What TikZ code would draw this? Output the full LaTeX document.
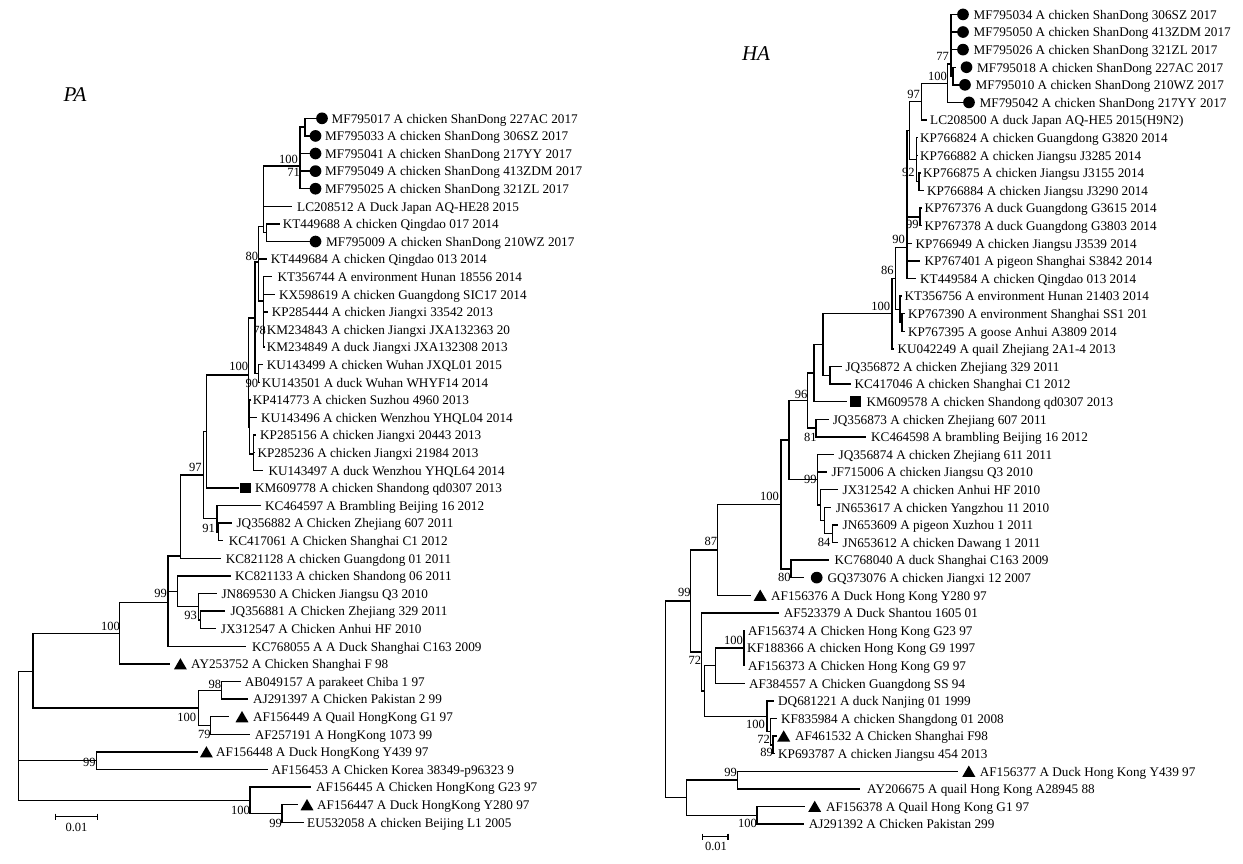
\documentclass[tikz,border=0pt]{standalone}
\usepackage{fontspec}
\setmainfont{Liberation Serif}
\usetikzlibrary{shapes.geometric}
\newcommand\leaffont{\fontsize{13.2}{15}\selectfont}
\newcommand\bsfont{\fontsize{12.5}{14}\selectfont}
\newcommand\kids[2]{\foreach \c in {#2} {\draw[br] (#1) |- (\c);}}
\begin{document}
\begin{tikzpicture}[x=1pt,y=-1pt,
  br/.style={line width=1.4pt, draw=black},
  lab/.style={anchor=base west, inner sep=0pt, font=\leaffont, yshift=-4.8pt},
  bs/.style={anchor=base east, inner sep=0pt, font=\bsfont, yshift=-4.4pt},
  dot/.style={circle, fill=black, inner sep=0pt, minimum size=11.7pt},
  tri/.style={regular polygon, regular polygon sides=3, fill=black, inner sep=0pt, minimum size=15pt, yshift=-1.8pt},
  sq/.style={rectangle, fill=black, inner sep=0pt, minimum width=11pt, minimum height=10.5pt},
  ttl/.style={font=\fontsize{21}{24}\selectfont\itshape, inner sep=0pt},
  sbar/.style={line width=1.4pt, draw=black}]
\path[use as bounding box, fill=white] (0,0) rectangle (1243,863);

% ================= LEFT TREE (PA) =================
\node[ttl] (tPA) at (75,95) {PA};
% leaves
\coordinate (a1) at (316,118.3);   \node[dot] (am1) at (322,118.3) {};   \node[lab] (at1) at (331.5,118.3) {MF795017 A chicken ShanDong 227AC 2017};
\coordinate (a2) at (309.5,135.9); \node[dot] (am2) at (315.5,135.9) {}; \node[lab] (at2) at (325,135.9) {MF795033 A chicken ShanDong 306SZ 2017};
\coordinate (a3) at (309.5,153.5); \node[dot] (am3) at (315.5,153.5) {}; \node[lab] (at3) at (325,153.5) {MF795041 A chicken ShanDong 217YY 2017};
\coordinate (a4) at (309.5,171.1); \node[dot] (am4) at (315.5,171.1) {}; \node[lab] (at4) at (325,171.1) {MF795049 A chicken ShanDong 413ZDM 2017};
\coordinate (a5) at (309.5,188.7); \node[dot] (am5) at (315.5,188.7) {}; \node[lab] (at5) at (325,188.7) {MF795025 A chicken ShanDong 321ZL 2017};
\coordinate (a6) at (291.7,206.3); \node[lab] (at6) at (297,206.3) {LC208512 A Duck Japan AQ-HE28 2015};
\coordinate (a7) at (280,223.9);   \node[lab] (at7) at (282.7,223.9) {KT449688 A chicken Qingdao 017 2014};
\coordinate (a8) at (309.5,241.5); \node[dot] (am8) at (315.5,241.5) {}; \node[lab] (at8) at (326,241.5) {MF795009 A chicken ShanDong 210WZ 2017};
\coordinate (a9) at (267,259.1);   \node[lab] (at9) at (270.7,259.1) {KT449684 A chicken Qingdao 013 2014};
\coordinate (a10) at (271.7,276.7); \node[lab] (at10) at (277.3,276.7) {KT356744 A environment Hunan 18556 2014};
\coordinate (a11) at (275,294.3);   \node[lab] (at11) at (279,294.3) {KX598619 A chicken Guangdong SIC17 2014};
\coordinate (a12) at (268.3,311.9); \node[lab] (at12) at (271.7,311.9) {KP285444 A chicken Jiangxi 33542 2013};
\coordinate (a13) at (264.5,329.5); \node[lab] (at13) at (266.7,329.5) {KM234843 A chicken Jiangxi JXA132363 20};
\coordinate (a14) at (264.5,347.1); \node[lab] (at14) at (266.7,347.1) {KM234849 A duck Jiangxi JXA132308 2013};
\coordinate (a15) at (262.7,364.7); \node[lab] (at15) at (266.7,364.7) {KU143499 A chicken Wuhan JXQL01 2015};
\coordinate (a16) at (259.5,382.3); \node[lab] (at16) at (261.7,382.3) {KU143501 A duck Wuhan WHYF14 2014};
\coordinate (a17) at (250.5,399.9); \node[lab] (at17) at (252.7,399.9) {KP414773 A chicken Suzhou 4960 2013};
\coordinate (a18) at (256.7,417.5); \node[lab] (at18) at (261,417.5) {KU143496 A chicken Wenzhou YHQL04 2014};
\coordinate (a19) at (255.7,435.1); \node[lab] (at19) at (260,435.1) {KP285156 A chicken Jiangxi 20443 2013};
\coordinate (a20) at (254.5,452.7); \node[lab] (at20) at (257.3,452.7) {KP285236 A chicken Jiangxi 21984 2013};
\coordinate (a21) at (263.3,470.3); \node[lab] (at21) at (268.3,470.3) {KU143497 A duck Wenzhou YHQL64 2014};
\coordinate (a22) at (239,487.9);   \node[sq] (am22) at (245,487.9) {}; \node[lab] (at22) at (255,487.9) {KM609778 A chicken Shandong qd0307 2013};
\coordinate (a23) at (261,505.5);   \node[lab] (at23) at (265,505.5) {KC464597 A Brambling Beijing 16 2012};
\coordinate (a24) at (232,523.1);   \node[lab] (at24) at (236.4,523.1) {JQ356882 A Chicken Zhejiang 607 2011};
\coordinate (a25) at (223.2,540.7); \node[lab] (at25) at (228.6,540.7) {KC417061 A Chicken Shanghai C1 2012};
\coordinate (a26) at (221.4,558.3); \node[lab] (at26) at (225.7,558.3) {KC821128 A chicken Guangdong 01 2011};
\coordinate (a27) at (231.4,575.9); \node[lab] (at27) at (235,575.9) {KC821133 A chicken Shandong 06 2011};
\coordinate (a28) at (217,593.5);   \node[lab] (at28) at (221.4,593.5) {JN869530 A Chicken Jiangsu Q3 2010};
\coordinate (a29) at (225,611.1);   \node[lab] (at29) at (230.4,611.1) {JQ356881 A Chicken Zhejiang 329 2011};
\coordinate (a30) at (216,628.7);   \node[lab] (at30) at (220.7,628.7) {JX312547 A Chicken Anhui HF 2010};
\coordinate (a31) at (246.4,646.3); \node[lab] (at31) at (251.8,646.3) {KC768055 A A Duck Shanghai C163 2009};
\coordinate (a32) at (169.6,663.9); \node[tri] (am32) at (180.4,663.9) {}; \node[lab] (at32) at (191,663.9) {AY253752 A Chicken Shanghai F 98};
\coordinate (a33) at (241,681.5);   \node[lab] (at33) at (244.6,681.5) {AB049157 A parakeet Chiba 1 97};
\coordinate (a34) at (248.2,699.1); \node[lab] (at34) at (252.9,699.1) {AJ291397 A Chicken Pakistan 2 99};
\coordinate (a35) at (228.6,716.7); \node[tri] (am35) at (242,716.7) {}; \node[lab] (at35) at (252.9,716.7) {AF156449 A Quail HongKong G1 97};
\coordinate (a36) at (250,734.3);   \node[lab] (at36) at (254.6,734.3) {AF257191 A HongKong 1073 99};
\coordinate (a37) at (198.2,751.9); \node[tri] (am37) at (206.4,751.9) {}; \node[lab] (at37) at (216,751.9) {AF156448 A Duck HongKong Y439 97};
\coordinate (a38) at (267.9,769.5); \node[lab] (at38) at (271.4,769.5) {AF156453 A Chicken Korea 38349-p96323 9};
\coordinate (a39) at (311,787.1);   \node[lab] (at39) at (316,787.1) {AF156445 A Chicken HongKong G23 97};
\coordinate (a40) at (298,804.7);   \node[tri] (am40) at (307,804.7) {}; \node[lab] (at40) at (317,804.7) {AF156447 A Duck HongKong Y280 97};
\coordinate (a41) at (303.6,822.3); \node[lab] (at41) at (307,822.3) {EU532058 A chicken Beijing L1 2005};
% internal nodes
\coordinate (aA) at (305,127.1);
\coordinate (aB) at (300,166);
\coordinate (aC) at (263.3,226.7);
\coordinate (aK) at (266.7,232.7);
\coordinate (a80) at (258.3,262);
\coordinate (aR) at (263.3,300.9);
\coordinate (a78) at (263.3,325.1);
\coordinate (aP) at (255,317.8);
\coordinate (a90) at (258.3,373.5);
\coordinate (aS) at (249.3,426.9);
\coordinate (aT) at (253.3,453.9);
\coordinate (a100b) at (248.3,375);
\coordinate (a207) at (206.7,431.5);
\coordinate (a97) at (203.6,475.1);
\coordinate (aD) at (216.8,518.7);
\coordinate (a91) at (218.6,531.9);
\coordinate (aE) at (180.4,556);
\coordinate (aG) at (177.5,591.3);
\coordinate (a93) at (198.2,606.7);
\coordinate (a93b) at (200.7,619.9);
\coordinate (a99) at (167.9,602.7);
\coordinate (a100) at (119.6,633.3);
\coordinate (aN) at (32.9,671.3);
\coordinate (a100c) at (198.2,707.9);
\coordinate (a98) at (221.4,690.3);
\coordinate (a79) at (210.7,725.5);
\coordinate (a99b) at (96.4,760.7);
\coordinate (a100d) at (250,800.3);
\coordinate (a99c) at (282,813.5);
\coordinate (aroot) at (18.6,735.8);
% branches
\kids{aA}{a1,a2}
\kids{aB}{aA,a3,a4,a5}
\kids{aC}{aB,a6,aK}
\kids{aK}{a7,a8}
\kids{a80}{aC,a9,aR}
\kids{aR}{a10,a11,a78}
\kids{a78}{a12,a13,a14}
\kids{aP}{a80,a90}
\kids{a90}{a15,a16}
\kids{aS}{a17,a18,aT}
\kids{aT}{a19,a20,a21}
\kids{a100b}{aP,aS}
\kids{a207}{a100b,a22}
\kids{a97}{a207,aD}
\kids{aD}{a23,a91}
\kids{a91}{a24,a25}
\kids{aE}{a97,a26}
\kids{aG}{a27,a93}
\kids{a93}{a28,a93b}
\kids{a93b}{a29,a30}
\kids{a99}{aE,aG,a31}
\kids{a100}{a99,a32}
\kids{aN}{a100,a100c}
\kids{a100c}{a98,a79}
\kids{a98}{a33,a34}
\kids{a79}{a35,a36}
\kids{a99b}{a37,a38}
\kids{a100d}{a39,a99c}
\kids{a99c}{a40,a41}
\kids{aroot}{aN,a99b,a100d}
% bootstrap values
\node[bs] (ab1) at (298,159) {100};
\node[bs] (ab2) at (300,172.5) {71};
\node[bs] (ab3) at (258.3,256) {80};
\node[bs] (ab4) at (266,330) {78};
\node[bs] (ab5) at (248.3,366.5) {100};
\node[bs] (ab6) at (258.3,383) {90};
\node[bs] (ab7) at (201.7,467) {97};
\node[bs] (ab8) at (215,528) {91};
\node[bs] (ab9) at (167,593.5) {99};
\node[bs] (ab10) at (197,615) {93};
\node[bs] (ab11) at (120,626.5) {100};
\node[bs] (ab12) at (221.4,684) {98};
\node[bs] (ab13) at (196.4,717.5) {100};
\node[bs] (ab14) at (210.7,734.5) {79};
\node[bs] (ab15) at (95.7,762.5) {99};
\node[bs] (ab16) at (250,810) {100};
\node[bs] (ab17) at (282,823) {99};
% scale bar
\draw[sbar] (55.4,816.7) -- (97.5,816.7);
\draw[sbar] (55.4,813.7) -- (55.4,820.2);
\draw[sbar] (97.5,813.7) -- (97.5,820.2);
\node[font=\bsfont, inner sep=0pt] (asc) at (76.5,827.5) {0.01};

% ================= RIGHT TREE (HA) =================
\node[ttl] (tHA) at (756,53.5) {HA};
\coordinate (b1) at (957.5,14.4);  \node[dot] (bm1) at (963,14.4) {};  \node[lab] (bt1) at (973.5,14.4) {MF795034 A chicken ShanDong 306SZ 2017};
\coordinate (b2) at (957.5,32.0);  \node[dot] (bm2) at (963,32.0) {};  \node[lab] (bt2) at (973.5,32.0) {MF795050 A chicken ShanDong 413ZDM 2017};
\coordinate (b3) at (957.5,49.6);  \node[dot] (bm3) at (963,49.6) {};  \node[lab] (bt3) at (973.5,49.6) {MF795026 A chicken ShanDong 321ZL 2017};
\coordinate (b4) at (956,67.2);    \node[dot] (bm4) at (966.5,67.2) {}; \node[lab] (bt4) at (977,67.2) {MF795018 A chicken ShanDong 227AC 2017};
\coordinate (b5) at (959.5,84.8);  \node[dot] (bm5) at (965,84.8) {};  \node[lab] (bt5) at (975.5,84.8) {MF795010 A chicken ShanDong 210WZ 2017};
\coordinate (b6) at (963,102.4);   \node[dot] (bm6) at (969,102.4) {};  \node[lab] (bt6) at (979.5,102.4) {MF795042 A chicken ShanDong 217YY 2017};
\coordinate (b7) at (926.8,120.0); \node[lab] (bt7) at (930,120.0) {LC208500 A duck Japan AQ-HE5 2015(H9N2)};
\coordinate (b8) at (917.5,137.6); \node[lab] (bt8) at (920,137.6) {KP766824 A chicken Guangdong G3820 2014};
\coordinate (b9) at (917.5,155.2); \node[lab] (bt9) at (920,155.2) {KP766882 A chicken Jiangsu J3285 2014};
\coordinate (b10) at (920.5,172.8); \node[lab] (bt10) at (923,172.8) {KP766875 A chicken Jiangsu J3155 2014};
\coordinate (b11) at (923.5,190.4); \node[lab] (bt11) at (926.8,190.4) {KP766884 A chicken Jiangsu J3290 2014};
\coordinate (b12) at (921.5,208.0); \node[lab] (bt12) at (924.4,208.0) {KP767376 A duck Guangdong G3615 2014};
\coordinate (b13) at (921.5,225.6); \node[lab] (bt13) at (924.4,225.6) {KP767378 A duck Guangdong G3803 2014};
\coordinate (b14) at (911.5,243.2); \node[lab] (bt14) at (915.4,243.2) {KP766949 A chicken Jiangsu J3539 2014};
\coordinate (b15) at (920,260.8);   \node[lab] (bt15) at (924.4,260.8) {KP767401 A pigeon Shanghai S3842 2014};
\coordinate (b16) at (916.4,278.4); \node[lab] (bt16) at (920,278.4) {KT449584 A chicken Qingdao 013 2014};
\coordinate (b17) at (901.5,296.0); \node[lab] (bt17) at (904.3,296.0) {KT356756 A environment Hunan 21403 2014};
\coordinate (b18) at (904.5,313.6); \node[lab] (bt18) at (907.8,313.6) {KP767390 A environment Shanghai SS1 201};
\coordinate (b19) at (904.5,331.2); \node[lab] (bt19) at (907.8,331.2) {KP767395 A goose Anhui A3809 2014};
\coordinate (b20) at (894,348.8);   \node[lab] (bt20) at (897.4,348.8) {KU042249 A quail Zhejiang 2A1-4 2013};
\coordinate (b21) at (842,366.4);   \node[lab] (bt21) at (845.4,366.4) {JQ356872 A chicken Zhejiang 329 2011};
\coordinate (b22) at (850.6,384.0); \node[lab] (bt22) at (854.4,384.0) {KC417046 A chicken Shanghai C1 2012};
\coordinate (b23) at (846.5,401.6); \node[sq] (bm23) at (855.6,401.6) {}; \node[lab] (bt23) at (866.3,401.6) {KM609578 A chicken Shandong qd0307 2013};
\coordinate (b24) at (828.6,419.2); \node[lab] (bt24) at (832.6,419.2) {JQ356873 A chicken Zhejiang 607 2011};
\coordinate (b25) at (866.3,436.8); \node[lab] (bt25) at (871,436.8) {KC464598 A brambling Beijing 16 2012};
\coordinate (b26) at (833.7,454.4); \node[lab] (bt26) at (838.5,454.4) {JQ356874 A chicken Zhejiang 611 2011};
\coordinate (b27) at (827,472.0);   \node[lab] (bt27) at (831.4,472.0) {JF715006 A chicken Jiangsu Q3 2010};
\coordinate (b28) at (837.7,489.6); \node[lab] (bt28) at (842.5,489.6) {JX312542 A chicken Anhui HF 2010};
\coordinate (b29) at (830.5,507.2); \node[lab] (bt29) at (835.7,507.2) {JN653617 A chicken Yangzhou 11 2010};
\coordinate (b30) at (837.7,524.8); \node[lab] (bt30) at (842.5,524.8) {JN653609 A pigeon Xuzhou 1 2011};
\coordinate (b31) at (837.7,542.4); \node[lab] (bt31) at (842.5,542.4) {JN653612 A chicken Dawang 1 2011};
\coordinate (b32) at (828.6,560.0); \node[lab] (bt32) at (834.5,560.0) {KC768040 A duck Shanghai C163 2009};
\coordinate (b33) at (803.5,577.6); \node[dot] (bm33) at (816.7,577.6) {}; \node[lab] (bt33) at (827.4,577.6) {GQ373076 A chicken Jiangxi 12 2007};
\coordinate (b34) at (751.1,595.2); \node[tri] (bm34) at (760.2,595.2) {}; \node[lab] (bt34) at (771,595.2) {AF156376 A Duck Hong Kong Y280 97};
\coordinate (b35) at (779,612.8);   \node[lab] (bt35) at (783.7,612.8) {AF523379 A Duck Shantou 1605 01};
\coordinate (b36) at (745,630.4);   \node[lab] (bt36) at (748,630.4) {AF156374 A Chicken Hong Kong G23 97};
\coordinate (b37) at (745,648.0);   \node[lab] (bt37) at (747,648.0) {KF188366 A chicken Hong Kong G9 1997};
\coordinate (b38) at (745,665.6);   \node[lab] (bt38) at (748,665.6) {AF156373 A Chicken Hong Kong G9 97};
\coordinate (b39) at (744.5,683.2); \node[lab] (bt39) at (749,683.2) {AF384557 A Chicken Guangdong SS 94};
\coordinate (b40) at (774,700.8);   \node[lab] (bt40) at (778,700.8) {DQ681221 A duck Nanjing 01 1999};
\coordinate (b41) at (777,718.4);   \node[lab] (bt41) at (781,718.4) {KF835984 A chicken Shangdong 01 2008};
\coordinate (b42) at (777,736.0);   \node[tri] (bm42) at (783.7,736.0) {}; \node[lab] (bt42) at (794.8,736.0) {AF461532 A Chicken Shanghai F98};
\coordinate (b43) at (775,753.6);   \node[lab] (bt43) at (778,753.6) {KP693787 A chicken Jiangsu 454 2013};
\coordinate (b44) at (957.7,771.2); \node[tri] (bm44) at (968.8,771.2) {}; \node[lab] (bt44) at (979.6,771.2) {AF156377 A Duck Hong Kong Y439 97};
\coordinate (b45) at (860.4,788.8); \node[lab] (bt45) at (867,788.8) {AY206675 A quail Hong Kong A28945 88};
\coordinate (b46) at (804.7,806.4); \node[tri] (bm46) at (814.7,806.4) {}; \node[lab] (bt46) at (825.8,806.4) {AF156378 A Quail Hong Kong G1 97};
\coordinate (b47) at (803.5,824.0); \node[lab] (bt47) at (808.7,824.0) {AJ291392 A Chicken Pakistan 299};
% internal nodes
\coordinate (bX) at (953,76);
\coordinate (b77) at (951,64);
\coordinate (b100) at (947.6,83.3);
\coordinate (b97) at (921.6,101.7);
\coordinate (bZ) at (909.5,130.6);
\coordinate (b92) at (916.4,159.6);
\coordinate (bX2) at (919,181.6);
\coordinate (b99a) at (920,216.8);
\coordinate (b90) at (907,247.6);
\coordinate (bHS) at (900,309.2);
\coordinate (bHS2) at (902,322.4);
\coordinate (b86) at (895.6,278.4);
\coordinate (b100b) at (892,313.6);
\coordinate (bJQ) at (829.8,375.2);
\coordinate (b823) at (823,344.4);
\coordinate (b814) at (814,373);
\coordinate (b81) at (816,428);
\coordinate (b96) at (807.5,400.5);
\coordinate (bN84) at (832.6,533.6);
\coordinate (bN2) at (824.6,520.4);
\coordinate (bN3) at (820.6,505);
\coordinate (b99c) at (817.5,479.7);
\coordinate (b788) at (788.8,440.1);
\coordinate (bKC) at (790.8,568.8);
\coordinate (b100c) at (781,504.5);
\coordinate (b87) at (717.3,549.8);
\coordinate (b100h) at (744,648);
\coordinate (b715) at (715.3,665.6);
\coordinate (b773) at (773,744.8);
\coordinate (b770) at (770.2,731.6);
\coordinate (b767) at (767,716.2);
\coordinate (bS) at (704.6,690.9);
\coordinate (b72) at (701.4,651.9);
\coordinate (b99r) at (690.7,600.8);
\coordinate (b99y) at (737.2,780);
\coordinate (b100q) at (757,815.2);
\coordinate (bB2) at (686.7,797.6);
\coordinate (broot) at (665.7,699.2);
% branches
\kids{bX}{b4,b5}
\kids{b77}{b1,b2,b3,bX}
\kids{b100}{b77,b6}
\kids{b97}{b100,b7}
\kids{bZ}{b97,b92}
\kids{b92}{b8,b9,bX2}
\kids{bX2}{b10,b11}
\kids{b99a}{b12,b13}
\kids{b90}{bZ,b99a,b14,b15,b16}
\kids{bHS}{b17,bHS2}
\kids{bHS2}{b18,b19}
\kids{b86}{b90,bHS}
\kids{b100b}{b86,b20}
\kids{bJQ}{b21,b22}
\kids{b823}{b100b,bJQ}
\kids{b814}{b823,b23}
\kids{b81}{b24,b25}
\kids{b96}{b814,b81}
\kids{bN84}{b30,b31}
\kids{bN2}{b29,bN84}
\kids{bN3}{b28,bN2}
\kids{b99c}{b26,b27,bN3}
\kids{b788}{b96,b99c}
\kids{bKC}{b32,b33}
\kids{b100c}{b788,bKC}
\kids{b87}{b100c,b34}
\kids{b100h}{b36,b37,b38}
\kids{b715}{b100h,b39}
\kids{b773}{b42,b43}
\kids{b770}{b41,b773}
\kids{b767}{b40,b770}
\kids{bS}{b715,b767}
\kids{b72}{b35,bS}
\kids{b99r}{b87,b72}
\kids{b99y}{b44,b45}
\kids{b100q}{b46,b47}
\kids{bB2}{b99y,b100q}
\kids{broot}{b99r,bB2}
% bootstrap values
\node[bs] (bb1) at (949,56) {77};
\node[bs] (bb2) at (947,76) {100};
\node[bs] (bb3) at (920,94) {97};
\node[bs] (bb4) at (914.7,172.5) {92};
\node[bs] (bb5) at (918.8,224) {99};
\node[bs] (bb6) at (905,239) {90};
\node[bs] (bb7) at (893.9,270.5) {86};
\node[bs] (bb8) at (890.4,306) {100};
\node[bs] (bb9) at (807.5,394) {96};
\node[bs] (bb10) at (816.7,437.5) {81};
\node[bs] (bb11) at (816.7,479) {99};
\node[bs] (bb12) at (779,496) {100};
\node[bs] (bb13) at (830.6,542.5) {84};
\node[bs] (bb14) at (717.3,541) {87};
\node[bs] (bb15) at (790.8,577) {80};
\node[bs] (bb16) at (690.7,592) {99};
\node[bs] (bb17) at (701.4,660) {72};
\node[bs] (bb18) at (743,640.5) {100};
\node[bs] (bb19) at (765,724.5) {100};
\node[bs] (bb20) at (770,739.5) {72};
\node[bs] (bb21) at (773,752.5) {89};
\node[bs] (bb22) at (737,772) {99};
\node[bs] (bb23) at (757,823) {100};
% scale bar
\draw[sbar] (702.6,836.7) -- (728,836.7);
\draw[sbar] (702.6,833.5) -- (702.6,840);
\draw[sbar] (728,833.5) -- (728,840);
\node[font=\bsfont, inner sep=0pt] (bsc) at (716,846.5) {0.01};
\end{tikzpicture}
\end{document}
